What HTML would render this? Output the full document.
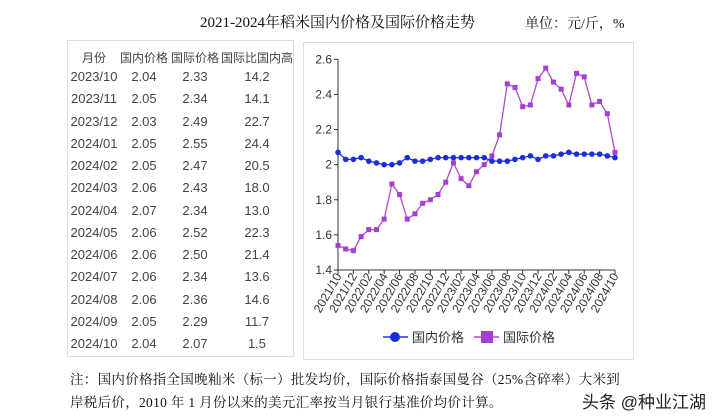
<!DOCTYPE html>
<html><head><meta charset="utf-8"><style>
body{margin:0;width:717px;height:420px;background:#fff;position:relative;overflow:hidden;font-family:"Liberation Sans","Noto Sans CJK SC",sans-serif;color:#333}
.a{position:absolute;white-space:nowrap}
.t{font-family:"Liberation Serif","Noto Serif CJK SC",serif;color:#111}
.c{position:absolute;text-align:center;font-size:13px;color:#444}
</style></head><body>
<div class="a t" style="left:200px;top:11px;font-size:15px">2021-2024年稻米国内价格及国际价格走势</div>
<div class="a t" style="left:525px;top:13px;font-size:14px">单位：元/斤，%</div>
<div class="a" style="left:67px;top:40px;width:225px;height:315px;border:1px solid #ddd"></div>
<div class="a" style="left:303px;top:42px;width:329px;height:316px;border:1px solid #ddd"></div>
<div id="tbl"></div>
<svg class="a" style="left:0;top:0" width="717" height="420" id="sv"></svg>
<div class="a t" style="left:70px;top:368px;font-size:13.5px;letter-spacing:0.3px">注：国内价格指全国晚籼米（标一）批发均价，国际价格指泰国曼谷（25%含碎率）大米到</div>
<div class="a t" style="left:70px;top:391px;font-size:13.5px;letter-spacing:0.3px">岸税后价，2010 年 1 月份以来的美元汇率按当月银行基准价均价计算。</div>
<div class="a" style="left:582px;top:388px;font-size:17px;color:#222">头条 @种业江湖</div>
<script>
var rows=[["2023/10","2.04","2.33","14.2"],["2023/11","2.05","2.34","14.1"],["2023/12","2.03","2.49","22.7"],["2024/01","2.05","2.55","24.4"],["2024/02","2.05","2.47","20.5"],["2024/03","2.06","2.43","18.0"],["2024/04","2.07","2.34","13.0"],["2024/05","2.06","2.52","22.3"],["2024/06","2.06","2.50","21.4"],["2024/07","2.06","2.34","13.6"],["2024/08","2.06","2.36","14.6"],["2024/09","2.05","2.29","11.7"],["2024/10","2.04","2.07","1.5"]];
var h='',cx=[94,144,195,257];
var hd=["月份","国内价格","国际价格","国际比国内高"];
hd.forEach(function(s,i){h+='<div class="c" style="left:'+(cx[i]-45)+'px;width:90px;top:49px;font-size:12px">'+s+'</div>';});
rows.forEach(function(r,j){var y=69+j*22.25;r.forEach(function(s,i){h+='<div class="c" style="left:'+(cx[i]-45)+'px;width:90px;top:'+y+'px">'+s+'</div>';});});
document.getElementById('tbl').innerHTML=h;
var d=[2.07,2.03,2.03,2.04,2.02,2.01,2.00,2.00,2.01,2.04,2.02,2.02,2.03,2.04,2.04,2.04,2.04,2.04,2.04,2.04,2.02,2.02,2.02,2.03,2.04,2.05,2.03,2.05,2.05,2.06,2.07,2.06,2.06,2.06,2.06,2.05,2.04];
var g=[1.54,1.52,1.51,1.59,1.63,1.63,1.69,1.89,1.83,1.69,1.72,1.78,1.80,1.83,1.90,2.01,1.92,1.88,1.96,2.00,2.05,2.17,2.46,2.44,2.33,2.34,2.49,2.55,2.47,2.43,2.34,2.52,2.50,2.34,2.36,2.29,2.07];
var x0=338,x1=615,y0=270,yt=59.3;
function X(i){return x0+i*(x1-x0)/36}function Y(v){return y0-(v-1.4)/1.2*(y0-yt)}
var s='<g font-family="Liberation Sans,sans-serif" font-size="12" fill="#333">';
s+='<line x1="'+x0+'" y1="'+yt+'" x2="'+x0+'" y2="'+y0+'" stroke="#333"/><line x1="'+x0+'" y1="'+y0+'" x2="'+x1+'" y2="'+y0+'" stroke="#333"/>';
[1.4,1.6,1.8,2,2.2,2.4,2.6].forEach(function(v){var y=Y(v);s+='<line x1="'+(x0-4)+'" y1="'+y+'" x2="'+x0+'" y2="'+y+'" stroke="#333"/><text x="'+(x0-6)+'" y="'+(y+4)+'" text-anchor="end">'+(v==2?'2':v.toFixed(1))+'</text>';});
var labs=[];for(var i=0;i<37;i+=2){var m=10+i,yr=2021+Math.floor((m-1)/12);m=((m-1)%12)+1;labs.push([i,yr+'/'+(m<10?'0':'')+m]);}
labs.forEach(function(l){var x=X(l[0]);s+='<line x1="'+x+'" y1="'+y0+'" x2="'+x+'" y2="'+(y0+4)+'" stroke="#333"/><text transform="translate('+(x+4)+','+(y0+6)+') rotate(-60)" text-anchor="end" font-size="12">'+l[1]+'</text>';});
function line(a,c){var p=a.map(function(v,i){return X(i).toFixed(1)+','+Y(v).toFixed(1)}).join(' ');return '<polyline points="'+p+'" fill="none" stroke="'+c+'" stroke-width="1.3"/>';}
s+=line(g,'#b04ad0');g.forEach(function(v,i){s+='<rect x="'+(X(i)-2.5)+'" y="'+(Y(v)-2.5)+'" width="5" height="5" fill="#a63fcf"/>';});
s+=line(d,'#2233dd');d.forEach(function(v,i){s+='<circle cx="'+X(i)+'" cy="'+Y(v)+'" r="2.8" fill="#1a2ee0"/>';});
s+='<line x1="383" y1="337" x2="408" y2="337" stroke="#2233dd" stroke-width="1.5"/><circle cx="395" cy="337" r="5" fill="#1a2ee0"/><text x="412" y="342" font-size="13" font-family="Noto Sans CJK SC,sans-serif">国内价格</text>';
s+='<line x1="474" y1="337" x2="499" y2="337" stroke="#b04ad0" stroke-width="1.5"/><rect x="481" y="331" width="12" height="12" fill="#a63fcf"/><text x="503" y="342" font-size="13" font-family="Noto Sans CJK SC,sans-serif">国际价格</text>';
s+='</g>';document.getElementById('sv').innerHTML=s;
</script>
</body></html>
